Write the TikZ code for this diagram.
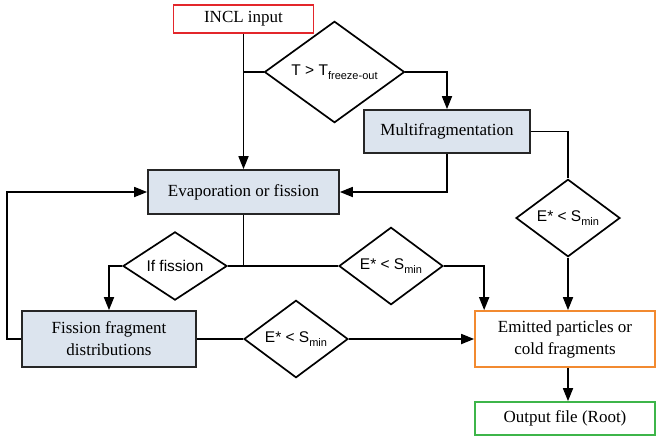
\documentclass[tikz,border=0pt]{standalone}
\usepackage{fontspec}
\setmainfont{Liberation Serif}
\newfontfamily\dsans{Liberation Sans}
\usetikzlibrary{shapes.geometric,arrows.meta}
\definecolor{boxfill}{HTML}{DCE4EE}
\definecolor{inclred}{HTML}{E3262B}
\definecolor{emitorange}{HTML}{F28A30}
\definecolor{outgreen}{HTML}{3DB54A}
\newcommand{\lowsub}[1]{\raisebox{-0.55ex}{\fontsize{11}{11}\selectfont #1}}
\begin{document}
\begin{tikzpicture}[x=1pt,y=-1pt,
  line width=1.7pt,
  arr/.style={-{Triangle[length=13pt,width=10pt]}},
  pbox/.style={draw=black!85, fill=boxfill, rectangle, inner sep=0pt, align=center,
    font=\fontsize{17}{22}\selectfont},
  obox/.style={draw, rectangle, fill=white, inner sep=0pt, align=center,
    font=\fontsize{17}{22}\selectfont},
  dia/.style={draw, diamond, fill=white, inner sep=0pt,
    font=\dsans\fontsize{15.5}{18}\selectfont}
]
\useasboundingbox (0,0) rectangle (656,440);

% nodes
\node[obox, draw=inclred, minimum width=140pt, minimum height=28pt] (incl) at (243.5,19) {INCL input};
\node[dia, minimum width=140pt, minimum height=80pt] (tdia) at (334.5,72) {T > T\lowsub{freeze-out}};
\node[pbox, minimum width=166pt, minimum height=43pt] (multi) at (447,131.5) {Multifragmentation};
\node[pbox, minimum width=191pt, minimum height=44pt] (evap) at (243.5,192) {Evaporation or fission};
\node[dia, minimum width=104pt, minimum height=72pt] (d1) at (568,218) {E* < S\lowsub{min}};
\node[dia, minimum width=104pt, minimum height=62pt] (iff) at (175,266) {If fission};
\node[dia, minimum width=104pt, minimum height=74pt] (d2) at (391,266) {E* < S\lowsub{min}};
\node[pbox, minimum width=174pt, minimum height=56pt] (fis) at (109,339) {Fission fragment\\distributions};
\node[dia, minimum width=104pt, minimum height=74pt] (d3) at (296,339) {E* < S\lowsub{min}};
\node[obox, draw=emitorange, minimum width=180pt, minimum height=56pt] (emit) at (565,339) {Emitted particles or\\cold fragments};
\node[obox, draw=outgreen, minimum width=180pt, minimum height=33pt] (out) at (565,418.5) {Output file (Root)};

% connectors
\draw[arr] (incl.south) -- (evap.north);
\draw (incl.south |- tdia.west) -- (tdia.west);
\draw[arr] (tdia.east) -| (multi.north);
\draw[arr] (multi.south) |- (evap.east);
\draw (multi.east) -| (d1.north);
\draw[arr] (d1.south) -- (d1.south |- emit.north);
\draw (evap.south) -- (evap.south |- iff.east);
\draw (iff.east) -- (d2.west);
\draw[arr] (iff.west) -| (fis.north);
\draw[arr] (fis.west) -- ++(-14,0) |- (evap.west);
\draw (fis.east) -- (d3.west);
\draw[arr] (d3.east) -- (emit.west);
\draw[arr] (d2.east) -| ([xshift=10pt]emit.north west);
\draw[arr] (d1.south |- emit.south) -- (d1.south |- out.north);
\end{tikzpicture}
\end{document}
